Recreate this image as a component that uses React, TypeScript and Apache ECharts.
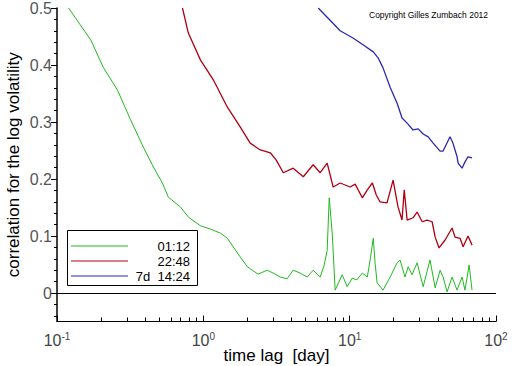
import React, { useEffect, useRef } from "react";
import * as echarts from "echarts";

const SERIES_NAMES = ["01:12", "22:48", "7d  14:24"];

// time lag in days
const GREEN_X = [0.12, 0.17, 0.207, 0.259, 0.318, 0.389, 0.456, 0.525, 0.577, 0.697, 0.791, 0.955, 1.12, 1.31, 1.46, 1.6, 1.79, 2.0, 2.37, 2.73, 3.0, 3.35, 3.74, 4.11, 4.59, 5.13, 5.63, 6.29, 6.7, 7.02, 7.25, 7.6, 7.96, 8.89, 9.62, 10.4, 11.2, 12.2, 13.2, 13.8, 14.5, 14.9, 15.4, 16.9, 18.9, 21.1, 22.1, 23.9, 25.1, 26.7, 28.9, 31.8, 35.4, 38.4, 41.5, 43.5, 46.3, 50.1, 54.2, 58.6, 61.4, 65.5, 68.6];
const GREEN_Y = [0.5, 0.444, 0.396, 0.356, 0.304, 0.256, 0.221, 0.193, 0.168, 0.151, 0.133, 0.118, 0.112, 0.105, 0.096, 0.081, 0.063, 0.046, 0.033, 0.04, 0.035, 0.028, 0.025, 0.04, 0.035, 0.028, 0.04, 0.028, 0.049, 0.075, 0.167, 0.105, 0.005, 0.032, 0.011, 0.026, 0.023, 0.035, 0.028, 0.058, 0.096, 0.054, 0.018, 0.005, 0.028, 0.053, 0.058, 0.028, 0.046, 0.032, 0.053, 0.011, 0.058, 0.009, 0.04, 0.028, 0.002, 0.028, 0.005, 0.028, 0.005, 0.049, 0.005];

const RED_X = [0.72, 0.79, 0.955, 1.17, 1.46, 1.79, 2.09, 2.45, 2.87, 3.15, 3.52, 4.11, 4.82, 5.63, 6.29, 7.02, 7.71, 8.61, 10.07, 10.9, 12.2, 13.2, 14.3, 15.2, 16.1, 18.0, 19.8, 21.4, 22.8, 23.6, 24.7, 27.1, 28.9, 31.3, 33.8, 36.6, 38.4, 40.8, 44.9, 50.1, 52.5, 56.8, 59.6, 64.4, 68.6];
const RED_Y = [0.5, 0.456, 0.409, 0.374, 0.326, 0.291, 0.263, 0.251, 0.246, 0.233, 0.211, 0.219, 0.204, 0.225, 0.211, 0.228, 0.186, 0.193, 0.186, 0.191, 0.167, 0.181, 0.193, 0.172, 0.16, 0.158, 0.198, 0.151, 0.128, 0.181, 0.128, 0.132, 0.142, 0.125, 0.128, 0.125, 0.098, 0.079, 0.093, 0.114, 0.098, 0.096, 0.081, 0.1, 0.084];

const BLUE_X = [6.1, 8.61, 10.6, 12.4, 14.5, 15.7, 16.9, 18.9, 21.1, 22.8, 24.7, 27.1, 29.4, 31.8, 34.4, 37.2, 41.5, 43.5, 48.5, 50.8, 54.2, 55.1, 58.6, 61.4, 64.4, 68.6];
const BLUE_Y = [0.5, 0.46, 0.447, 0.435, 0.423, 0.412, 0.395, 0.361, 0.333, 0.307, 0.298, 0.286, 0.288, 0.279, 0.274, 0.263, 0.249, 0.249, 0.274, 0.263, 0.239, 0.228, 0.219, 0.23, 0.239, 0.237];

const X_MAJOR = [0.1, 1, 10, 100];
const X_MINOR = [0.2, 0.3, 0.4, 0.5, 0.6, 0.7, 0.8, 0.9, 2, 3, 4, 5, 6, 7, 8, 9, 20, 30, 40, 50, 60, 70, 80, 90];
const Y_MAJOR = [0, 0.1, 0.2, 0.3, 0.4, 0.5];
const Y_MINOR = [-0.04, -0.02, 0.02, 0.04, 0.06, 0.08, 0.12, 0.14, 0.16, 0.18, 0.22, 0.24, 0.26, 0.28, 0.32, 0.34, 0.36, 0.38, 0.42, 0.44, 0.46, 0.48];

const COLORS = ["#1fbb1f", "#b0000f", "#2828b4"];
const WIDTHS = [1, 1.3, 1.3];

const pairs = (xs: number[], ys: number[]) => xs.map((x, i) => [x, ys[i]]);

export default function App() {
  const ref = useRef<HTMLDivElement>(null);
  useEffect(() => {
    if (!ref.current) return;
    const chart = echarts.init(ref.current, null, { renderer: "svg" });
    const font = "Liberation Sans";
    const dataSets = [pairs(GREEN_X, GREEN_Y), pairs(RED_X, RED_Y), pairs(BLUE_X, BLUE_Y)];
    const option: any = {
      animation: false,
      backgroundColor: "#ffffff",
      textStyle: { fontFamily: font },
      grid: { left: 57, right: 16, top: 8, bottom: 44.5, containLabel: false, outerBoundsMode: "none" },
      xAxis: [
        {
          type: "log",
          logBase: 10,
          min: 0.1,
          max: 100,
          position: "bottom",
          axisLine: { show: true, onZero: false, lineStyle: { color: "#000", width: 1 } },
          axisTick: { show: true, inside: true, length: 6, customValues: X_MAJOR, lineStyle: { color: "#000" } },
          axisLabel: {
            show: true,
            margin: 10,
            customValues: X_MAJOR,
            formatter: (v: number) => "{b|10}{s|" + Math.round(Math.log10(v)) + "}",
            rich: {
              b: { fontSize: 16, color: "#444", fontFamily: font },
              s: { fontSize: 10, color: "#444", fontFamily: font, verticalAlign: "top", padding: [0, 0, 8, 0] },
            },
          },
          splitLine: { show: false },
          name: "time lag  [day]",
          nameLocation: "middle",
          nameGap: 25,
          nameMoveOverlap: false,
          nameTextStyle: { fontSize: 17, color: "#000", fontFamily: font },
        },
        {
          type: "log",
          logBase: 10,
          min: 0.1,
          max: 100,
          position: "bottom",
          axisLine: { show: false, onZero: false },
          axisTick: { show: true, inside: true, length: 4, customValues: X_MINOR, lineStyle: { color: "#000" } },
          axisLabel: { show: false },
          splitLine: { show: false },
        },
      ],
      yAxis: [
        {
          type: "value",
          min: -0.05,
          max: 0.5,
          position: "left",
          axisLine: { show: true, onZero: false, lineStyle: { color: "#000", width: 1.5 } },
          axisTick: { show: true, inside: false, length: 6, customValues: Y_MAJOR, lineStyle: { color: "#000", width: 1 } },
          axisLabel: {
            show: true,
            margin: 5,
            customValues: Y_MAJOR,
            formatter: (v: number) => (Math.abs(v) < 1e-9 ? "0" : v.toFixed(1)),
            fontSize: 16,
            color: "#555",
            fontFamily: font,
          },
          splitLine: { show: false },
          name: "correlation for the log volatility",
          nameLocation: "middle",
          nameGap: 35,
          nameMoveOverlap: false,
          nameRotate: 90,
          nameTextStyle: { fontSize: 17, color: "#000", fontFamily: font },
        },
        {
          type: "value",
          min: -0.05,
          max: 0.5,
          position: "left",
          axisLine: { show: false, onZero: false },
          axisTick: { show: true, inside: false, length: 3, customValues: Y_MINOR, lineStyle: { color: "#000", width: 1 } },
          axisLabel: { show: false },
          splitLine: { show: false },
        },
      ],
      series: dataSets.map((d, i) => ({
        name: SERIES_NAMES[i],
        type: "line",
        data: d,
        xAxisIndex: 0,
        yAxisIndex: 0,
        showSymbol: false,
        symbol: "none",
        lineStyle: { color: COLORS[i], width: WIDTHS[i] },
        itemStyle: { color: COLORS[i] },
        z: 3 - i,
        markLine:
          i === 0
            ? {
                silent: true,
                symbol: "none",
                label: { show: false },
                lineStyle: { color: "#000", type: "solid", width: 1 },
                data: [{ yAxis: 0 }],
              }
            : undefined,
      })),
      graphic: [
        {
          type: "text",
          left: 369,
          top: 10,
          style: { text: "Copyright Gilles Zumbach 2012", fontSize: 8.5, fill: "#000", fontFamily: font },
        },
        {
          type: "rect",
          shape: { x: 67.5, y: 230.5, width: 130, height: 55 },
          style: { fill: "#fff", stroke: "#000", lineWidth: 1 },
          z: 10,
        },
        ...SERIES_NAMES.map((n, i) => ({
          type: "line",
          shape: { x1: 71, y1: 246 + i * 15, x2: 128, y2: 246 + i * 15 },
          style: { stroke: COLORS[i], lineWidth: 1 },
          z: 11,
        })),
        ...SERIES_NAMES.map((n, i) => ({
          type: "text",
          x: 190,
          y: 246 + i * 15,
          style: { text: n, fontSize: 13, fill: "#000", fontFamily: font, align: "right", verticalAlign: "middle" },
          z: 11,
        })),
      ],
    };
    chart.setOption(option);
    return () => chart.dispose();
  }, []);
  return <div ref={ref} style={{ position: "fixed", left: 0, top: 0, width: 512, height: 366 }} />;
}
